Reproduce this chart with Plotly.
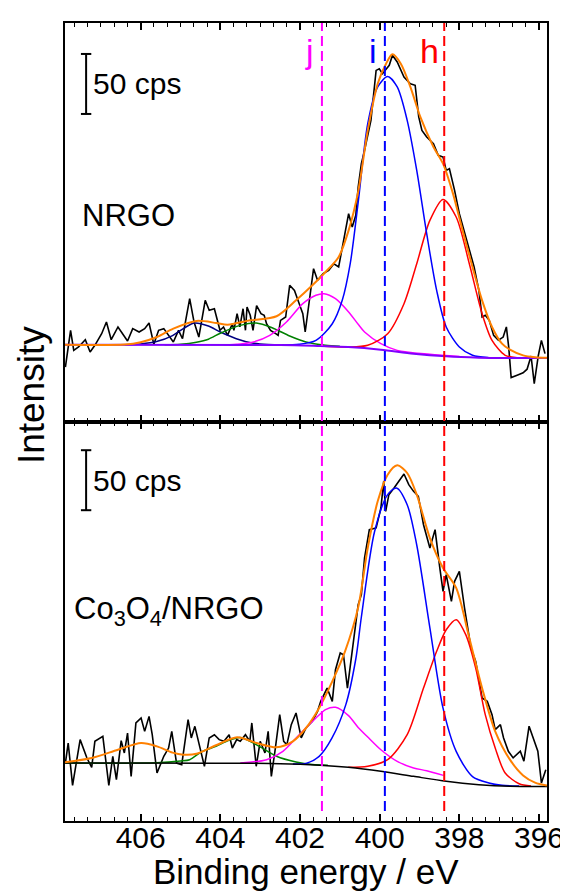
import plotly.graph_objects as go

# ---------------- data (binding energy eV, intensity cps) ----------------
# Top panel: NRGO
nrgo_raw_x = [407.89, 407.76, 407.68, 407.56, 407.39, 407.27, 407.15, 406.98, 406.86, 406.74,
              406.57, 406.45, 406.33, 406.20, 406.04, 405.90, 405.79, 405.67, 405.55, 405.42,
              405.30, 405.18, 405.05, 404.95, 404.87, 404.77, 404.66, 404.54, 404.38, 404.28,
              404.15, 404.09, 404.01, 403.92, 403.82, 403.70, 403.66, 403.58, 403.51, 403.43,
              403.37, 403.33, 403.25, 403.18, 403.09, 402.98, 402.90, 402.84, 402.74, 402.61,
              402.55, 402.49, 402.36, 402.26, 402.14, 402.02, 401.93, 401.87, 401.77, 401.66,
              401.56, 401.42, 401.28, 401.15, 401.03, 400.91, 400.78, 400.69, 400.60, 400.54,
              400.46, 400.38, 400.22, 400.09, 400.01, 399.93, 399.76, 399.68, 399.56, 399.39,
              399.23, 399.11, 399.02, 398.94, 398.82, 398.65, 398.53, 398.41, 398.33, 398.25,
              398.12, 398.00, 397.88, 397.75, 397.63, 397.51, 397.43, 397.35, 397.25, 397.14,
              397.02, 396.90, 396.82, 396.76, 396.70, 396.55, 396.40, 396.30, 396.20, 396.12,
              396.02, 395.94, 395.85]
nrgo_raw_y = [45.8, 76.4, 59.7, 62.5, 68.6, 58.3, 63.9, 73.6, 83.3, 68.6,
              79.2, 73.6, 67.5, 77.8, 75.0, 77.8, 82.5, 64.7, 76.4, 77.8,
              72.2, 66.7, 76.4, 69.4, 84.7, 102.8, 83.3, 70.8, 101.4, 93.1,
              94.4, 87.5, 76.4, 79.2, 72.2, 81.9, 76.4, 90.3, 79.2, 94.4,
              76.4, 95.8, 88.9, 76.4, 97.0, 90.3, 88.9, 81.9, 76.4, 73.6,
              72.2, 84.7, 87.5, 113.9, 109.7, 98.6, 90.3, 75.0, 98.6, 127.8,
              118.1, 123.6, 126.4, 131.9, 129.2, 151.4, 173.6, 162.5, 172.2, 195.8,
              215.3, 226.4, 251.4, 293.0, 294.4, 290.3, 297.2, 305.6, 300.0, 287.5,
              281.9, 280.6, 254.2, 243.0, 237.5, 231.9, 222.2, 220.8, 209.7, 211.1,
              193.0, 173.6, 159.7, 143.0, 129.2, 109.7, 87.5, 88.9, 84.7, 72.2,
              68.1, 70.8, 79.2, 62.0, 37.0, 39.0, 41.0, 44.0, 55.0, 32.0,
              55.0, 68.0, 57.0]

nrgo_env_x = [407.9, 406.4, 406.0, 405.59, 405.18, 404.6, 404.1, 403.82, 403.25, 402.59,
              402.10, 401.69, 401.36, 401.03, 400.78, 400.54, 400.30, 400.05, 399.84, 399.68,
              399.47, 399.23, 398.98, 398.65, 398.41, 398.16, 397.92, 397.67, 397.43, 397.18,
              396.93, 396.73, 396.4, 396.1, 395.8]
nrgo_env_y = [64.4, 64.6, 66.5, 70.8, 77.8, 84.2, 82.5, 81.1, 84.7, 88.1,
              101.4, 113.9, 125.0, 137.5, 159.7, 192.0, 243.0, 281.9, 298.6, 306.4,
              298.6, 279.2, 254.2, 229.2, 215.3, 190.3, 159.7, 129.2, 101.4, 79.2,
              65.3, 60.3, 55.5, 54.0, 53.5]

nrgo_i_x = [402.5, 402.02, 401.60, 401.19, 400.94, 400.74, 400.54, 400.30, 400.05, 399.80,
            399.56, 399.31, 399.07, 398.82, 398.57, 398.33, 398.0, 397.67, 397.26, 396.8]
nrgo_i_y = [64.2, 64.7, 68.0, 81.9, 101.4, 131.9, 183.0, 248.6, 279.2, 288.0,
            279.2, 251.4, 209.7, 156.9, 109.7, 79.2, 62.5, 55.6, 53.6, 53.3]

nrgo_h_x = [401.5, 400.79, 400.30, 399.80, 399.39, 399.07, 398.74, 398.41, 398.08, 397.75,
            397.43, 397.18, 396.85, 396.5, 396.2]
nrgo_h_y = [63.4, 62.5, 63.9, 73.6, 98.6, 131.9, 168.0, 185.5, 170.8, 131.9,
            90.3, 68.0, 55.6, 53.5, 53.3]

nrgo_j_x = [403.9, 403.66, 403.17, 402.76, 402.34, 401.93, 401.60, 401.40, 401.11, 400.78,
            400.54, 400.38, 399.97, 399.56, 398.74, 398.0]
nrgo_j_y = [64.3, 64.6, 66.7, 72.2, 83.3, 98.6, 105.6, 106.9, 102.8, 91.7,
            81.4, 75.0, 65.3, 59.7, 56.4, 54.5]

nrgo_g_x = [405.4, 405.0, 404.6, 404.3, 404.0, 403.5, 403.1, 402.7, 402.26, 401.85, 401.36, 401.0]
nrgo_g_y = [64.3, 64.8, 66.5, 69.0, 74.0, 80.5, 82.5, 78.6, 71.7, 66.7, 64.0, 63.2]

nrgo_n_x = [406.4, 406.0, 405.6, 405.2, 404.9, 404.65, 404.3, 404.0, 403.6, 403.2, 402.8, 402.4]
nrgo_n_y = [64.4, 65.0, 67.0, 72.0, 78.5, 82.5, 80.0, 75.0, 69.4, 65.8, 64.5, 64.2]

nrgo_bg_x = [407.9, 402.5, 401.5, 400.79, 399.97, 399.15, 398.33, 397.51, 396.73, 395.8]
nrgo_bg_y = [64.4, 64.2, 63.3, 62.5, 60.3, 56.9, 54.7, 53.6, 53.3, 53.3]

# Bottom panel: Co3O4/NRGO
co_raw_x = [407.89, 407.82, 407.71, 407.52, 407.35, 407.23, 407.15, 406.95, 406.80, 406.70,
            406.61, 406.49, 406.41, 406.33, 406.24, 406.12, 405.99, 405.90, 405.79, 405.71,
            405.59, 405.42, 405.30, 405.22, 405.10, 404.97, 404.81, 404.73, 404.64, 404.52,
            404.40, 404.28, 404.15, 404.03, 403.91, 403.78, 403.70, 403.59, 403.50, 403.37,
            403.26, 403.21, 403.10, 403.00, 402.88, 402.80, 402.72, 402.63, 402.51, 402.41,
            402.33, 402.22, 402.10, 401.97, 401.85, 401.69, 401.56, 401.48, 401.32, 401.19,
            401.11, 400.99, 400.91, 400.81, 400.70, 400.62, 400.54, 400.46, 400.38, 400.26,
            400.09, 399.97, 399.90, 399.85, 399.77, 399.64, 399.52, 399.39, 399.27, 399.15,
            399.03, 398.90, 398.74, 398.61, 398.49, 398.41, 398.33, 398.20, 398.12, 398.00,
            397.87, 397.71, 397.59, 397.43, 397.30, 397.18, 397.10, 396.97, 396.89, 396.77,
            396.65, 396.47, 396.38, 396.25, 396.03, 395.94, 395.83]
co_raw_y = [48.3, 65.0, 29.7, 67.8, 52.5, 44.7, 66.4, 70.6, 29.7, 53.9,
            34.4, 66.9, 56.7, 73.3, 37.2, 81.7, 85.8, 74.7, 87.2, 71.9,
            40.0, 53.9, 60.8, 74.7, 48.3, 46.9, 84.4, 69.2, 78.9, 60.8,
            45.6, 69.2, 71.9, 67.8, 66.4, 71.9, 60.8, 67.8, 66.4, 71.9,
            66.4, 81.7, 45.6, 66.4, 56.7, 74.7, 37.2, 58.1, 88.6, 66.4,
            63.6, 80.3, 90.0, 69.2, 77.5, 83.0, 91.4, 99.7, 110.8, 99.7,
            126.1, 140.0, 138.6, 110.8, 138.6, 160.8, 180.3, 188.6, 219.2, 242.8,
            244.2, 260.8, 283.0, 258.0, 271.9, 277.5, 283.0, 289.2, 280.3, 274.7,
            270.6, 246.9, 227.5, 242.8, 210.8, 191.4, 205.3, 183.0, 199.7, 208.0,
            177.5, 144.2, 133.0, 102.5, 99.7, 88.6, 76.1, 80.3, 69.2, 58.1,
            52.6, 58.2, 49.8, 79.0, 58.2, 31.7, 42.8]

co_env_x = [407.9, 407.23, 406.57, 405.99, 405.59, 405.2, 404.93, 404.6, 404.11, 403.58,
            403.09, 402.59, 402.18, 401.85, 401.52, 401.19, 400.87, 400.54, 400.30, 400.05,
            399.80, 399.56, 399.31, 399.07, 398.74, 398.41, 398.08, 397.75, 397.43, 397.10,
            396.73, 396.4, 396.1, 395.8]
co_env_y = [49.0, 52.5, 59.4, 65.0, 62.2, 57.0, 55.3, 56.0, 63.1, 69.7,
            65.0, 61.4, 66.4, 77.5, 94.2, 116.4, 141.4, 178.0, 227.5, 266.4,
            288.6, 296.4, 290.0, 271.9, 235.8, 210.8, 194.2, 152.5, 110.8, 74.7,
            51.1, 38.0, 32.0, 29.5]

co_i_x = [402.18, 401.85, 401.52, 401.2, 400.85, 400.6, 400.46, 400.13, 399.80, 399.58,
          399.31, 399.07, 398.74, 398.41, 398.08, 397.67, 397.26, 396.93, 396.5]
co_i_y = [47.5, 48.0, 53.9, 69.0, 97.0, 135.0, 170.0, 241.0, 272.0, 277.5,
          263.6, 230.0, 161.0, 94.0, 58.0, 37.0, 31.7, 29.7, 29.2]

co_h_x = [400.79, 400.30, 399.80, 399.31, 398.90, 398.57, 398.33, 398.08, 397.84, 397.59,
          397.35, 397.10, 396.85, 396.5, 396.2]
co_h_y = [44.7, 45.6, 51.1, 71.9, 110.8, 141.4, 159.4, 167.8, 155.3, 127.5,
          88.6, 60.8, 40.0, 31.0, 29.2]

co_j_x = [403.5, 402.84, 402.43, 402.02, 401.6, 401.36, 401.11, 400.79, 400.54, 400.3,
          399.97, 399.56, 399.15, 398.82, 398.4]
co_j_y = [48.3, 51.1, 58.1, 71.9, 85.8, 92.8, 94.7, 88.0, 78.0, 70.0,
          59.4, 49.7, 44.2, 41.9, 38.0]

co_g_x = [407.9, 405.6, 405.0, 404.77, 404.48, 404.11, 403.8, 403.5, 403.09, 402.59,
          402.1, 401.69, 401.3]
co_g_y = [48.3, 48.5, 50.0, 51.1, 57.5, 62.2, 67.0, 69.5, 63.5, 54.0,
          49.2, 47.0, 46.5]

co_bg_x = [407.9, 402.5, 401.5, 400.79, 399.97, 399.15, 398.33, 397.51, 396.73, 395.8]
co_bg_y = [48.3, 47.8, 46.5, 44.7, 41.4, 37.2, 33.1, 30.3, 28.9, 28.7]

# reference positions of the components (eV) and their labels
peak_labels = ["j", "i", "h"]
peak_positions = [401.45, 399.87, 398.38]
peak_colors = ["#FF00FF", "#0000FF", "#FF0000"]
label_x = [401.75, 400.17, 398.74]

SCALE_CPS = 50
X_RANGE = [407.9, 395.8]
Y_RANGE = [0, 332.5]

FONT = "Liberation Sans, Arial, sans-serif"

fig = go.Figure()


def add(x, y, color, width, xa, ya, shape="spline"):
    fig.add_trace(go.Scatter(x=x, y=y, mode="lines", xaxis=xa, yaxis=ya,
                             line=dict(color=color, width=width, shape=shape,
                                       smoothing=0.8 if shape == "spline" else None),
                             showlegend=False, hoverinfo="skip"))


# top panel (x2 / y2)
add(nrgo_raw_x, nrgo_raw_y, "black", 1.6, "x2", "y2", "linear")
add(nrgo_n_x, nrgo_n_y, "#000080", 1.5, "x2", "y2")
add(nrgo_g_x, nrgo_g_y, "#008000", 1.5, "x2", "y2")
add(nrgo_j_x, nrgo_j_y, "#FF00FF", 1.5, "x2", "y2")
add(nrgo_h_x, nrgo_h_y, "#FF0000", 1.5, "x2", "y2")
add(nrgo_i_x, nrgo_i_y, "#0000FF", 1.5, "x2", "y2")
add(nrgo_bg_x, nrgo_bg_y, "#8000FF", 2, "x2", "y2")
add(nrgo_env_x, nrgo_env_y, "#FF8000", 2, "x2", "y2")

# bottom panel (x / y)
add(co_raw_x, co_raw_y, "black", 1.6, "x", "y", "linear")
add(co_g_x, co_g_y, "#008000", 1.5, "x", "y")
add(co_j_x, co_j_y, "#FF00FF", 1.5, "x", "y")
add(co_h_x, co_h_y, "#FF0000", 1.5, "x", "y")
add(co_i_x, co_i_y, "#0000FF", 1.5, "x", "y")
add(co_bg_x, co_bg_y, "black", 1.5, "x", "y")
add(co_env_x, co_env_y, "#FF8000", 2, "x", "y")

shapes = []
for pos, col in zip(peak_positions, peak_colors):
    shapes.append(dict(type="line", xref="x", yref="paper", x0=pos, x1=pos, y0=0.0125, y1=1,
                       line=dict(color=col, width=2, dash="10px,5px"), layer="above"))

annotations = []
for lab, lx, col in zip(peak_labels, label_x, peak_colors):
    annotations.append(dict(text=lab, xref="x", yref="paper", x=lx, y=0.965,
                            xanchor="center", yanchor="middle",
                            showarrow=False, font=dict(family=FONT, size=34, color=col)))

# scale bars
for xa, ya, ytop in [("x2", "y2", 306.7), ("x", "y", 309.0)]:
    ybot = ytop - SCALE_CPS
    shapes.append(dict(type="line", xref=xa, yref=ya, x0=407.37, x1=407.37, y0=ybot, y1=ytop,
                       line=dict(color="black", width=2)))
    for yy in (ybot, ytop):
        shapes.append(dict(type="line", xref=xa, yref=ya, x0=407.50, x1=407.24, y0=yy, y1=yy,
                           line=dict(color="black", width=2)))
    annotations.append(dict(text="50 cps", xref=xa, yref=ya, x=407.25, y=(ytop + ybot) / 2,
                            xanchor="left", yanchor="middle", showarrow=False,
                            font=dict(family=FONT, size=30, color="black")))

annotations.append(dict(text="NRGO", xref="x2", yref="y2", x=407.52, y=172, xanchor="left",
                        yanchor="middle", showarrow=False,
                        font=dict(family=FONT, size=31, color="black")))
annotations.append(dict(text="Co<sub>3</sub>O<sub>4</sub>/NRGO", xref="x", yref="y", x=407.72, y=175,
                        xanchor="left", yanchor="middle", showarrow=False,
                        font=dict(family=FONT, size=31, color="black")))
annotations.append(dict(text="Intensity", xref="paper", yref="paper", x=-0.068, y=0.534,
                        textangle=-90, xanchor="center", yanchor="middle", showarrow=False,
                        font=dict(family=FONT, size=37, color="black")))
annotations.append(dict(text="Binding energy / eV", xref="paper", yref="paper", x=0.5, y=-0.0635,
                        xanchor="center", yanchor="middle", showarrow=False,
                        font=dict(family=FONT, size=35, color="black")))

xcommon = dict(range=X_RANGE, showline=True, linecolor="black", linewidth=2, mirror="ticks",
               ticks="inside", ticklen=7, tickwidth=1.5, tickcolor="black", dtick=2, tick0=396,
               minor=dict(dtick=2 / 6, tick0=396, ticks="inside", ticklen=4, tickwidth=1.3,
                          tickcolor="black", showgrid=False),
               showgrid=False, zeroline=False,
               tickfont=dict(family=FONT, size=30, color="black"))
ycommon = dict(range=Y_RANGE, showline=True, linecolor="black", linewidth=2, mirror=True,
               ticks="", showticklabels=False, showgrid=False, zeroline=False)

fig.update_layout(
    width=568, height=891,
    margin=dict(l=57, r=20, t=15, b=78),
    paper_bgcolor="white", plot_bgcolor="white",
    xaxis=dict(**xcommon, anchor="y", domain=[0, 1], ticklabelstandoff=-11),
    xaxis2=dict(**xcommon, anchor="y2", domain=[0, 1], matches="x", showticklabels=False),
    yaxis=dict(**ycommon, domain=[0, 0.5], anchor="x"),
    yaxis2=dict(**ycommon, domain=[0.5, 1], anchor="x2"),
    shapes=shapes, annotations=annotations,
    showlegend=False,
)

fig.write_html("out.html")
